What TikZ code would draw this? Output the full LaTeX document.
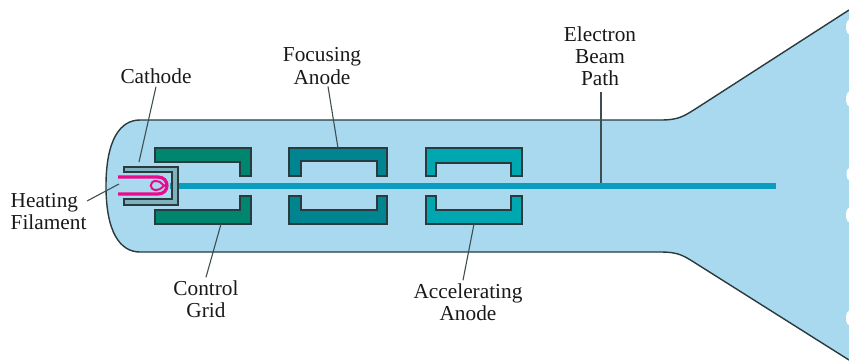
\documentclass[tikz,border=0pt]{standalone}
\usepackage{fontspec}
\setmainfont{Liberation Serif}
\definecolor{glass}{HTML}{A8D9EE}
\definecolor{gridc}{HTML}{00866F}
\definecolor{focusc}{HTML}{00848F}
\definecolor{accelc}{HTML}{00A6B0}
\definecolor{cathc}{HTML}{7DB3BC}
\definecolor{beamc}{HTML}{0A9DC0}
\definecolor{fil}{HTML}{EC0A8C}
\definecolor{edge}{HTML}{2A3A3E}
\tikzset{
  part/.style={draw=edge,line width=1.2pt,line join=miter},
  leader/.style={draw=edge!90,line width=1.1pt},
  lab/.style={font=\fontsize{21.3}{22.2}\selectfont,align=center,inner sep=0pt,text=black!90}
}
\begin{document}
\begin{tikzpicture}[x=1pt,y=-1pt]
\useasboundingbox (0,0) rectangle (849,360);
% tube
\fill[glass] (849,10) -- (700,106) .. controls (684,116) and (680,120) .. (660,120) -- (140,120) .. controls (120,120) and (106,140) .. (106,186) .. controls (106,232) and (120,252) .. (140,252) -- (660,252) .. controls (680,252) and (684,256) .. (700,266) -- (849,360) -- cycle;
\draw[edge,line width=1.4pt] (849,10) -- (700,106) .. controls (684,116) and (680,120) .. (660,120) -- (140,120) .. controls (120,120) and (106,140) .. (106,186) .. controls (106,232) and (120,252) .. (140,252) -- (660,252) .. controls (680,252) and (684,256) .. (700,266) -- (849,360);
% screen edge marks
\fill[white] (849,27) ellipse (3 and 7);
\fill[white] (849,99) ellipse (3 and 7);
\fill[white] (849,174) ellipse (2.5 and 6);
\fill[white] (849,215) ellipse (3 and 7);
\fill[white] (849,318) ellipse (3 and 7);
% beam
\fill[beamc] (170,183) rectangle (776,188.5);
% grid
\draw[part,fill=gridc] (155,148) -- (251,148) -- (251,176) -- (240,176) -- (240,162) -- (155,162) -- cycle;
\draw[part,fill=gridc] (155,224) -- (251,224) -- (251,196) -- (240,196) -- (240,210) -- (155,210) -- cycle;
% focusing anode
\draw[part,fill=focusc] (289,176) -- (289,148) -- (387,148) -- (387,176) -- (377,176) -- (377,161) -- (301,161) -- (301,176) -- cycle;
\draw[part,fill=focusc] (289,196) -- (289,224) -- (387,224) -- (387,196) -- (377,196) -- (377,210) -- (301,210) -- (301,196) -- cycle;
% accelerating anode
\draw[part,fill=accelc] (426,176) -- (426,148) -- (522,148) -- (522,176) -- (511,176) -- (511,163) -- (436,163) -- (436,176) -- cycle;
\draw[part,fill=accelc] (426,196) -- (426,224) -- (522,224) -- (522,196) -- (511,196) -- (511,210) -- (436,210) -- (436,196) -- cycle;
% cathode
\draw[part,fill=cathc] (124,167) -- (178,167) -- (178,205) -- (124,205) -- (124,199) -- (172,199) -- (172,172) -- (124,172) -- cycle;
% filament
\draw[fil,line width=3.2pt,line join=round] (118,177) -- (158,177) .. controls (170,177) and (170,194) .. (158,194) -- (118,194);
\draw[fil,line width=2pt] (156,181) .. controls (149,181) and (149,190) .. (156,190) .. controls (162,190) and (163,185) .. (165,185.5) .. controls (162,186) and (162,181) .. (156,181);
% labels
\node[lab] (cat) at (156,76) {Cathode};
\node[lab] (foc) at (322,66) {Focusing\\Anode};
\node[lab] (ele) at (600,56.5) {Electron\\Beam\\Path};
\node[lab,align=left,anchor=west] (hea) at (10.5,211.5) {Heating\\Filament};
\node[lab] (con) at (206,299) {Control\\Grid};
\node[lab] (acc) at (468,302) {Accelerating\\Anode};
% leader ends
\coordinate (catend) at (139,162);
\coordinate (focend) at (338,148);
\coordinate (eleend) at (601,183);
\coordinate (heaend) at (119,184);
\coordinate (conend) at (221,224);
\coordinate (accend) at (474,224);
\coordinate (catst) at ([yshift=-3pt]cat.south);
\coordinate (focst) at ([xshift=6pt,yshift=-2pt]foc.south);
\coordinate (elest) at ([yshift=-6pt]ele.south -| eleend);
\coordinate (heast) at (87,201);
\coordinate (const) at ([yshift=3pt]con.north);
\coordinate (accst) at ([xshift=-5pt,yshift=3pt]acc.north);
\draw[leader] (catst) -- (catend);
\draw[leader] (focst) -- (focend);
\draw[leader] (elest) -- (eleend);
\draw[leader] (heast) -- (heaend);
\draw[leader] (const) -- (conend);
\draw[leader] (accst) -- (accend);
\end{tikzpicture}
\end{document}
